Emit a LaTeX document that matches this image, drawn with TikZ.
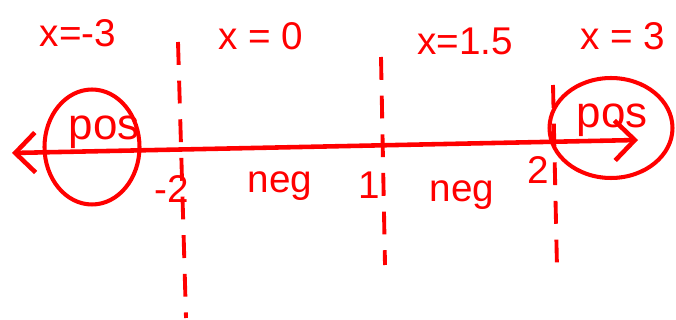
\documentclass[tikz,border=0pt]{standalone}
\usepackage{fontspec}
\setmainfont{Liberation Sans}
\usepackage{tikz}
\usetikzlibrary{
    arrows.meta,
    positioning,
    shapes.geometric
}
\definecolor{InkRed}{RGB}{255,0,0}

\begin{document}
\begin{tikzpicture}[
    x=0.02cm, y=-0.02cm,
    ink/.style={text=InkRed, font=\fontsize{22}{26}\selectfont, inner sep=0pt, anchor=base},
    region/.style={draw=InkRed, ellipse, line width=2.3pt, inner sep=0pt},
    cut/.style={draw=InkRed, line width=2.2pt, dash pattern=on 13pt off 9pt},
    axis/.style={{Straight Barb[length=4mm]}-{Straight Barb[length=4mm]}, InkRed, line width=2.6pt}
]
\useasboundingbox (0,0) rectangle (676,320);

% number line
\coordinate (axL) at (12,153);
\coordinate (axR) at (638,140);
\draw[axis] (axL) -- (axR);

% critical points
\coordinate (c1top) at (178,42);   \coordinate (c1bot) at (186,318);
\coordinate (c2top) at (381,57);   \coordinate (c2bot) at (385,265);
\coordinate (c3top) at (553,85);   \coordinate (c3bot) at (557,268);
\draw[cut] (c1top) -- (c1bot);
\draw[cut] (c2top) -- (c2bot);
\draw[cut] (c3top) -- (c3bot);

% test points
\node[ink] (t1) at (78,47)  {x=-3};
\node[ink] (t2) at (261,50) {x = 0};
\node[ink] (t3) at (465,55) {x=1.5};
\node[ink] (t4) at (623,50) {x = 3};

% roots
\node[ink] (r1) at (172,203) {-2};
\node[ink] (r2) at (369,199) {1};
\node[ink] (r3) at (538,184) {2};

% signs
\node[ink] (s1) at (280,193) {neg};
\node[ink] (s3) at (462,202) {neg};
\node[region, minimum width=1.9cm, minimum height=2.3cm] (posL) at (92,147) {};
\node[ink, font=\fontsize{25}{28}\selectfont] (pL) at (104,140) {pos};
\node[region, minimum width=2.46cm, minimum height=2.0cm] (posR) at (611,128) {};
\node[ink, font=\fontsize{25}{28}\selectfont] (pR) at (612,128) {pos};
\end{tikzpicture}
\end{document}
